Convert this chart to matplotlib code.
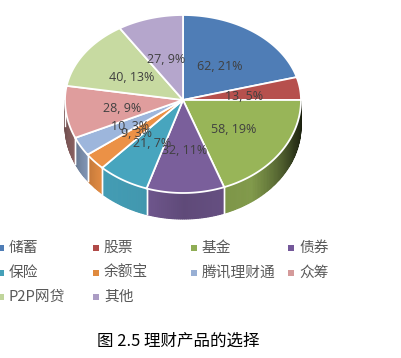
import numpy as np
import matplotlib
matplotlib.use('Agg')
import matplotlib.pyplot as plt
from matplotlib.colors import to_rgb

plt.rcParams['font.family'] = ['Noto Sans CJK SC', 'DejaVu Sans']

# dados do grafico
categorias = ['储蓄', '股票', '基金', '债券', '保险', '余额宝', '腾讯理财通', '众筹', 'P2P网贷', '其他']
valores = [62, 13, 58, 32, 21, 9, 10, 28, 40, 27]
percentuais = [21, 5, 19, 11, 7, 3, 3, 9, 13, 9]
cores = ['#4F7DB6', '#B6504D', '#98B558', '#7A5F9B', '#47A5BE',
         '#EB9146', '#9DB6DC', '#DF9D9D', '#C7DAA1', '#B5A6CC']
cores_legenda = ['#4F7DB6', '#B04A48', '#8FAD55', '#74589A', '#45A0B8',
                 '#E08A3E', '#98AFD4', '#D49A9A', '#C0D59B', '#AB9CC4']

cx, cy = 183, 100
rx = 118
ry_cima, ry_baixo = 85, 93
prof = 26


def projeta(ang, r=1.0):
    # ang em graus, horario a partir do topo
    a = np.radians(ang)
    dy = -np.cos(a)
    ry = np.where(dy < 0, ry_cima, ry_baixo)
    return cx + rx * r * np.sin(a), cy + ry * r * dy


def sombra(ang):
    # escurece a lateral conforme o angulo
    return np.interp(ang, [90, 110, 130, 145, 165, 180, 200, 225, 240, 250, 270],
                     [0.15, 0.3, 0.62, 0.85, 0.82, 0.78, 0.92, 0.95, 0.75, 0.6, 0.5])


fig = plt.figure(figsize=(4.01, 3.58), dpi=100)
ax = fig.add_axes([0, 0, 1, 1])
ax.set_xlim(0, 401)
ax.set_ylim(358, 0)
ax.axis('off')

total = sum(valores)
limites = np.cumsum([0] + valores) / total * 360

# lateral do disco
for i in range(len(valores)):
    ini, fim = limites[i], limites[i + 1]
    if fim <= 90 or ini >= 270:
        continue
    ini, fim = max(ini, 90), min(fim, 270)
    passos = np.linspace(ini, fim, int(fim - ini) + 2)
    base = np.array(to_rgb(cores[i]))
    for a0, a1 in zip(passos[:-1], passos[1:]):
        x0, y0 = projeta(a0)
        x1, y1 = projeta(a1)
        cor = base * sombra((a0 + a1) / 2)
        ax.fill([x0, x1, x1, x0], [y0, y1, y1 + prof, y0 + prof],
                facecolor=cor, edgecolor=cor, lw=0.8, zorder=2)
    for a in (ini, fim):
        x, y = projeta(a)
        if a > 90:
            ax.plot([x, x], [y, y + prof], color='white', lw=1.0, zorder=3)

# topo do disco
for i in range(len(valores)):
    angs = np.linspace(limites[i], limites[i + 1], 80)
    xs, ys = projeta(angs)
    ax.fill(np.r_[cx, xs], np.r_[cy, ys], facecolor=cores[i], edgecolor='white', lw=1.3, zorder=4)

# rotulos
for i in range(len(valores)):
    meio = (limites[i] + limites[i + 1]) / 2
    x, y = projeta(meio, 0.52)
    ax.text(x, y + 2, f'{valores[i]}, {percentuais[i]}%', ha='center', va='center',
            fontsize=9, color='#404040', family='Open Sans', zorder=5)

# legenda
col_x = [1, 96, 194, 291]
lin_y = [248, 273, 297]
for i, nome in enumerate(categorias):
    x = col_x[i % 4]
    y = lin_y[i // 4]
    ax.scatter([x], [y], marker='s', s=22, color=cores_legenda[i], linewidths=0, zorder=5)
    ax.text(x + 8, y, nome, ha='left', va='center', fontsize=10.6, color='#595959')

ax.text(178, 341, '图 2.5 理财产品的选择', ha='center', va='center', fontsize=11.9, color='black')

plt.savefig('out.png', dpi=100)
